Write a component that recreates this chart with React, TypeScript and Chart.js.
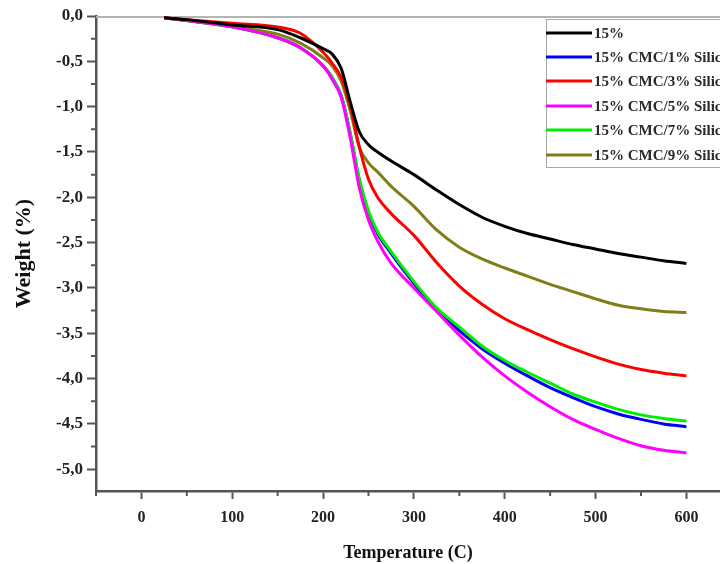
import React, { useEffect, useRef } from "react";
import { Chart, registerables } from "chart.js";

Chart.register(...registerables);

// Temperature grid (°C)
const temperatures = [25, 50, 100, 150, 175, 200, 210, 220, 230, 240, 250, 260, 275, 300, 325, 350, 375, 400, 425, 450, 475, 500, 525, 550, 575, 600];

// Weight change (%) per series
const w15 = [-0.02, -0.04, -0.1, -0.15, -0.24, -0.36, -0.42, -0.58, -0.95, -1.28, -1.42, -1.5, -1.6, -1.75, -1.92, -2.08, -2.22, -2.32, -2.4, -2.46, -2.52, -2.57, -2.62, -2.66, -2.7, -2.73];
const w1 = [-0.02, -0.05, -0.12, -0.24, -0.35, -0.55, -0.68, -0.88, -1.3, -1.82, -2.17, -2.4, -2.62, -2.95, -3.25, -3.47, -3.67, -3.83, -3.97, -4.1, -4.21, -4.31, -4.39, -4.45, -4.5, -4.53];
const w3 = [-0.02, -0.04, -0.08, -0.12, -0.19, -0.4, -0.52, -0.68, -1.0, -1.45, -1.8, -2.0, -2.18, -2.42, -2.72, -2.98, -3.18, -3.34, -3.46, -3.57, -3.67, -3.76, -3.84, -3.9, -3.94, -3.97];
const w5 = [-0.02, -0.05, -0.12, -0.24, -0.35, -0.55, -0.7, -0.9, -1.35, -1.9, -2.25, -2.48, -2.73, -3.0, -3.26, -3.52, -3.76, -3.97, -4.15, -4.31, -4.45, -4.56, -4.66, -4.74, -4.79, -4.82];
const w7 = [-0.02, -0.05, -0.12, -0.24, -0.35, -0.55, -0.68, -0.88, -1.3, -1.8, -2.15, -2.38, -2.6, -2.93, -3.22, -3.43, -3.64, -3.8, -3.93, -4.05, -4.17, -4.26, -4.34, -4.4, -4.44, -4.47];
const w9 = [-0.02, -0.05, -0.12, -0.2, -0.3, -0.46, -0.55, -0.72, -1.05, -1.45, -1.62, -1.72, -1.88, -2.1, -2.36, -2.55, -2.68, -2.78, -2.87, -2.96, -3.04, -3.12, -3.19, -3.23, -3.26, -3.27];

const seriesNames = ["15%", "15% CMC/1% Silica", "15% CMC/3% Silica", "15% CMC/5% Silica", "15% CMC/7% Silica", "15% CMC/9% Silica"];
const seriesValues = [w15, w1, w3, w5, w7, w9];
const seriesColors = ["#000000", "#0000ff", "#ff0000", "#ff00ff", "#00ee00", "#7f7f1a"];
const seriesOrder = [0, 2, 1, 1, 1, 1];

const xTicks = [0, 100, 200, 300, 400, 500, 600];
const xMinorTicks = [-50, 50, 150, 250, 350, 450, 550, 650];
const yTicks = [0, -0.5, -1, -1.5, -2, -2.5, -3, -3.5, -4, -4.5, -5];
const yMinorTicks = [-0.25, -0.75, -1.25, -1.75, -2.25, -2.75, -3.25, -3.75, -4.25, -4.75, -5.25];

const SERIF = "'Liberation Serif', 'Times New Roman', serif";
const AXIS_COLOR = "#555555";

const decorPlugin = {
  id: "decor",
  beforeDatasetsDraw(chart: any) {
    const { ctx, chartArea } = chart;
    ctx.save();
    ctx.strokeStyle = "#b4b4b4";
    ctx.lineWidth = 2;
    ctx.beginPath();
    ctx.moveTo(chartArea.left, chartArea.top + 1);
    ctx.lineTo(chartArea.right, chartArea.top + 1);
    ctx.stroke();
    ctx.restore();
  },
  afterDraw(chart: any) {
    const { ctx, chartArea, scales } = chart;
    const xs = scales.x;
    const ys = scales.y;
    ctx.save();
    ctx.strokeStyle = AXIS_COLOR;
    ctx.lineWidth = 2;
    ctx.beginPath();
    xMinorTicks.forEach((v) => {
      if (v < xs.min || v > xs.max) return;
      const px = xs.getPixelForValue(v);
      ctx.moveTo(px, chartArea.bottom);
      ctx.lineTo(px, chartArea.bottom + 5);
    });
    yMinorTicks.forEach((v) => {
      if (v < ys.min || v > ys.max) return;
      const py = ys.getPixelForValue(v);
      ctx.moveTo(chartArea.left, py);
      ctx.lineTo(chartArea.left - 5, py);
    });
    ctx.stroke();

    // legend box
    const bx = 546;
    const by = 19;
    const bw = 200;
    const bh = 148;
    ctx.fillStyle = "#ffffff";
    ctx.fillRect(bx, by, bw, bh);
    ctx.strokeStyle = "#a8a8a8";
    ctx.lineWidth = 1;
    ctx.strokeRect(bx + 0.5, by + 0.5, bw, bh);
    const rowY = [33, 57, 81, 106, 130, 155];
    chart.data.datasets.forEach((ds: any, i: number) => {
      const y = rowY[i];
      ctx.strokeStyle = ds.borderColor;
      ctx.lineWidth = 3;
      ctx.beginPath();
      ctx.moveTo(bx, y);
      ctx.lineTo(bx + 46, y);
      ctx.stroke();
      ctx.fillStyle = "#2a2a2a";
      ctx.font = `bold 15px ${SERIF}`;
      ctx.textBaseline = "middle";
      ctx.textAlign = "left";
      ctx.fillText(ds.label, bx + 48, y + 1);
    });
    ctx.restore();
  },
};

export default function App() {
  const canvasRef = useRef<HTMLCanvasElement | null>(null);

  useEffect(() => {
    const canvas = canvasRef.current;
    if (!canvas) return;
    const datasets = seriesNames.map((name, i) => ({
      label: name,
      data: temperatures.map((t, j) => ({ x: t, y: seriesValues[i][j] })),
      borderColor: seriesColors[i],
      backgroundColor: seriesColors[i],
      borderWidth: 3,
      pointRadius: 0,
      cubicInterpolationMode: "monotone" as const,
      fill: false,
      order: seriesOrder[i],
    }));

    const chart = new Chart(canvas, {
      type: "line",
      data: { datasets },
      options: {
        animation: false,
        responsive: false,
        maintainAspectRatio: false,
        layout: { padding: { top: 16, left: 0, right: 0, bottom: 0 } },
        plugins: { legend: { display: false }, tooltip: { enabled: false } },
        scales: {
          x: {
            type: "linear",
            min: -50,
            max: 637,
            afterFit: (scale: any) => {
              scale.height = 73;
            },
            afterBuildTicks: (scale: any) => {
              scale.ticks = xTicks.map((v) => ({ value: v }));
            },
            grid: {
              display: true,
              drawOnChartArea: false,
              drawTicks: true,
              tickLength: 8,
              tickColor: AXIS_COLOR,
              tickWidth: 2,
            },
            border: { display: true, color: AXIS_COLOR, width: 2.5 },
            ticks: {
              color: "#222222",
              font: { family: SERIF, size: 16, weight: "bold" },
              padding: 9,
              maxRotation: 0,
              autoSkip: false,
            },
            title: {
              display: true,
              text: "Temperature (C)",
              color: "#111111",
              font: { family: SERIF, size: 18, weight: "bold" },
              padding: { top: 0, bottom: 0 },
            },
          },
          y: {
            type: "linear",
            min: -5.24,
            max: 0,
            afterFit: (scale: any) => {
              scale.width = 96;
            },
            afterBuildTicks: (scale: any) => {
              scale.ticks = yTicks.map((v) => ({ value: v }));
            },
            grid: {
              display: true,
              drawOnChartArea: false,
              drawTicks: true,
              tickLength: 9,
              tickColor: AXIS_COLOR,
              tickWidth: 2,
            },
            border: { display: true, color: AXIS_COLOR, width: 2.5 },
            ticks: {
              color: "#222222",
              font: { family: SERIF, size: 17, weight: "bold" },
              padding: 4,
              autoSkip: false,
              callback: (v: any) => Number(v).toFixed(1).replace(".", ","),
            },
            title: {
              display: true,
              text: "Weight (%)",
              color: "#111111",
              font: { family: SERIF, size: 22, weight: "bold" },
              padding: { top: 11, bottom: 0 },
            },
          },
        },
      },
      plugins: [decorPlugin],
    });
    return () => chart.destroy();
  }, []);

  return (
    <div style={{ position: "fixed", left: 0, top: 0, width: 720, height: 564, background: "#ffffff", overflow: "hidden" }}>
      <canvas ref={canvasRef} width={720} height={564} style={{ display: "block", width: 720, height: 564 }} />
    </div>
  );
}
